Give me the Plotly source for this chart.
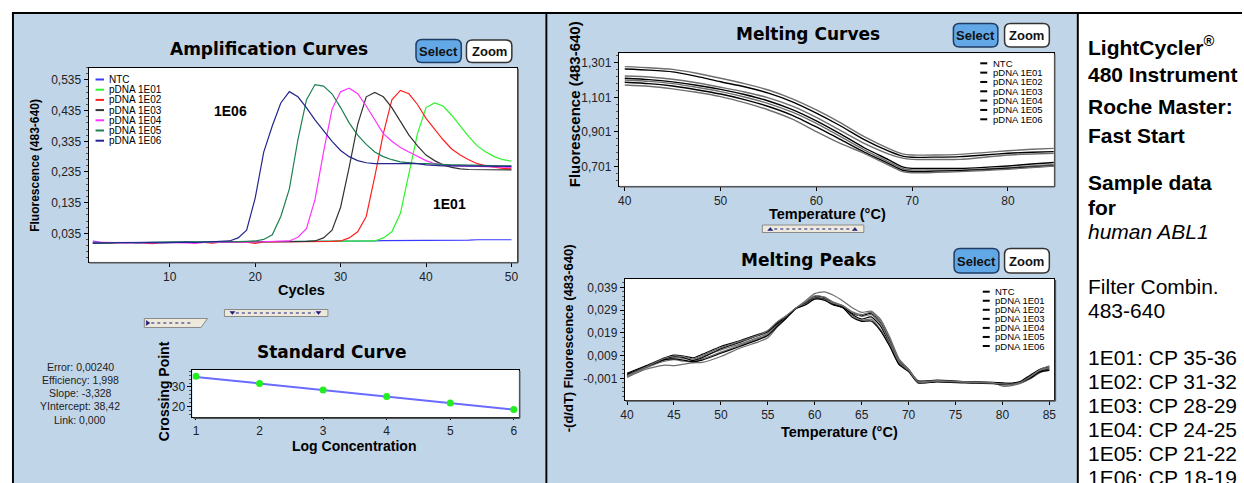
import plotly.graph_objects as go

W, H = 1244, 483


def px(x):
    return x / W


def py(y):
    return 1 - y / H


# ---------------- DATA ----------------
CYCLES = list(range(1, 51))
AMP_NAMES = ["NTC", "pDNA 1E01", "pDNA 1E02", "pDNA 1E03", "pDNA 1E04", "pDNA 1E05", "pDNA 1E06"]
AMP_COLORS = ["#3a3aff", "#2cf52c", "#ff2020", "#333333", "#ff33ff", "#1c8050", "#25258f"]

AMP_NTC = [0.010, 0.005, 0.005, 0.005, 0.005, 0.005, 0.006, 0.005, 0.006, 0.006,
           0.006, 0.006, 0.006, 0.007, 0.006, 0.007, 0.007, 0.007, 0.008, 0.007,
           0.008, 0.008, 0.008, 0.009, 0.008, 0.009, 0.008, 0.009, 0.009, 0.010,
           0.009, 0.010, 0.010, 0.010, 0.011, 0.011, 0.012, 0.011, 0.012, 0.012,
           0.013, 0.012, 0.013, 0.012, 0.013, 0.014, 0.013, 0.014, 0.014, 0.014]
AMP_1E01 = [0.002, 0.004, 0.005, 0.005, 0.004, 0.005, 0.005, 0.005, 0.006, 0.006,
            0.006, 0.006, 0.006, 0.007, 0.006, 0.006, 0.007, 0.007, 0.007, 0.007,
            0.007, 0.008, 0.008, 0.008, 0.008, 0.008, 0.008, 0.009, 0.009, 0.009,
            0.009, 0.009, 0.009, 0.010, 0.020, 0.040, 0.100, 0.230, 0.360, 0.445,
            0.460, 0.450, 0.420, 0.385, 0.350, 0.320, 0.300, 0.285, 0.275, 0.270]
AMP_1E02 = [0.005, 0.004, 0.004, 0.005, 0.006, 0.005, 0.004, 0.001, 0.005, 0.005,
            0.005, 0.006, 0.006, 0.005, 0.003, 0.006, 0.006, 0.006, 0.006, 0.002,
            0.007, 0.007, 0.007, 0.008, 0.008, 0.008, 0.009, 0.009, 0.009, 0.010,
            0.020, 0.040, 0.090, 0.220, 0.360, 0.470, 0.501, 0.490, 0.455, 0.410,
            0.375, 0.340, 0.310, 0.290, 0.275, 0.262, 0.255, 0.250, 0.247, 0.245]
AMP_1E03 = [0.004, 0.004, 0.005, 0.004, 0.005, 0.005, 0.005, 0.004, 0.005, 0.005,
            0.006, 0.006, 0.006, 0.006, 0.006, 0.007, 0.007, 0.007, 0.007, 0.007,
            0.008, 0.008, 0.008, 0.008, 0.008, 0.009, 0.010, 0.020, 0.045, 0.120,
            0.250, 0.390, 0.480, 0.494, 0.480, 0.445, 0.400, 0.355, 0.320, 0.290,
            0.272, 0.258, 0.250, 0.245, 0.243, 0.243, 0.242, 0.243, 0.242, 0.242]
AMP_1E04 = [0.006, 0.005, 0.004, 0.005, 0.004, 0.005, 0.004, 0.004, 0.005, 0.005,
            0.005, 0.004, 0.002, 0.005, 0.005, 0.006, 0.006, 0.006, 0.006, 0.007,
            0.007, 0.008, 0.008, 0.010, 0.022, 0.050, 0.145, 0.300, 0.440, 0.497,
            0.508, 0.490, 0.450, 0.405, 0.360, 0.335, 0.315, 0.300, 0.287, 0.272,
            0.262, 0.258, 0.256, 0.255, 0.254, 0.253, 0.252, 0.251, 0.250, 0.250]
AMP_1E05 = [0.002, 0.004, 0.004, 0.005, 0.004, 0.005, 0.005, 0.006, 0.005, 0.006,
            0.006, 0.006, 0.007, 0.006, 0.007, 0.007, 0.008, 0.008, 0.009, 0.010,
            0.015, 0.030, 0.090, 0.180, 0.340, 0.470, 0.520, 0.515, 0.490, 0.445,
            0.395, 0.355, 0.325, 0.300, 0.285, 0.275, 0.268, 0.265, 0.262, 0.262,
            0.260, 0.260, 0.258, 0.258, 0.257, 0.256, 0.256, 0.255, 0.255, 0.255]
AMP_1E06 = [0.003, 0.004, 0.004, 0.005, 0.005, 0.004, 0.005, 0.005, 0.004, 0.005,
            0.005, 0.006, 0.005, 0.006, 0.006, 0.007, 0.010, 0.020, 0.045, 0.150,
            0.300, 0.385, 0.460, 0.497, 0.480, 0.445, 0.405, 0.370, 0.335, 0.305,
            0.285, 0.272, 0.265, 0.262, 0.262, 0.260, 0.262, 0.263, 0.262, 0.258,
            0.256, 0.255, 0.255, 0.255, 0.254, 0.254, 0.254, 0.253, 0.253, 0.253]
AMP_SERIES = [AMP_NTC, AMP_1E01, AMP_1E02, AMP_1E03, AMP_1E04, AMP_1E05, AMP_1E06]
AMP_TICKS = [0.035, 0.135, 0.235, 0.335, 0.435, 0.535]

# Standard curve
LOG_CONC = [1, 2, 3, 4, 5, 6]
CROSSING_POINTS = [35.4, 31.8, 28.5, 25.2, 21.9, 18.6]
SLOPE = -3.328
Y_INTERCEPT = 38.42
STATS = ["Error: 0,00240", "Efficiency: 1,998", "Slope: -3,328", "YIntercept: 38,42", "Link: 0,000"]

# Melting curves
MELT_T = [40, 42.5, 45, 47.5, 50, 52.5, 55, 57.5, 60, 62.5, 65, 67.5, 69, 70, 72.5, 75, 77.5, 80, 82.5, 85]
MELT_A = [1.278, 1.272, 1.262, 1.240, 1.211, 1.180, 1.143, 1.092, 1.028, 0.955, 0.874, 0.807, 0.775, 0.768, 0.768, 0.772, 0.782, 0.793, 0.801, 0.807]
MELT_B = [1.264, 1.258, 1.248, 1.222, 1.191, 1.162, 1.125, 1.075, 1.010, 0.937, 0.857, 0.792, 0.762, 0.755, 0.756, 0.759, 0.768, 0.778, 0.784, 0.788]
MELT_C = [1.224, 1.218, 1.205, 1.185, 1.159, 1.132, 1.098, 1.050, 0.985, 0.910, 0.835, 0.775, 0.750, 0.743, 0.742, 0.743, 0.755, 0.768, 0.774, 0.778]
MELT_D = [1.211, 1.203, 1.190, 1.171, 1.147, 1.117, 1.080, 1.030, 0.965, 0.890, 0.810, 0.742, 0.700, 0.691, 0.690, 0.691, 0.697, 0.705, 0.716, 0.726]
MELT_E = [1.201, 1.193, 1.180, 1.159, 1.134, 1.103, 1.065, 1.015, 0.950, 0.875, 0.798, 0.730, 0.690, 0.682, 0.681, 0.682, 0.688, 0.695, 0.705, 0.714]
MELT_F = [1.188, 1.180, 1.166, 1.145, 1.120, 1.088, 1.048, 0.997, 0.930, 0.858, 0.785, 0.720, 0.680, 0.672, 0.675, 0.678, 0.684, 0.691, 0.699, 0.707]
MELT_G = [1.172, 1.165, 1.150, 1.130, 1.105, 1.070, 1.028, 0.975, 0.903, 0.835, 0.778, 0.711, 0.672, 0.666, 0.668, 0.672, 0.679, 0.686, 0.696, 0.705]
MELT_SERIES = [MELT_A, MELT_B, MELT_C, MELT_D, MELT_E, MELT_F, MELT_G]
MELT_TICKS = [0.701, 0.901, 1.101, 1.301]

# Melting peaks
PEAK_T = [40, 42, 44, 45, 46, 47, 48, 50, 52, 54, 55, 56, 57, 58, 59, 60, 61, 62, 63, 64, 65, 66, 67, 68,
          69, 70, 71, 73, 76, 79, 80, 81, 82, 83, 84, 85]
PEAK_A = [-0.0006, 0.0030, 0.0048, 0.0046, 0.0052, 0.0058, 0.0060, 0.0086, 0.0122, 0.0150, 0.0168, 0.0215,
          0.0255, 0.0298, 0.0330, 0.0362, 0.0370, 0.0355, 0.0330, 0.0300, 0.0280, 0.0285, 0.0250, 0.0170,
          0.0075, 0.0030, -0.0020, -0.0020, -0.0025, -0.0030, -0.0035, -0.0030, -0.0025, 0.0000, 0.0025, 0.0035]
PEAK_B = [0.0012, 0.0045, 0.0080, 0.0092, 0.0088, 0.0080, 0.0095, 0.0130, 0.0155, 0.0183, 0.0198, 0.0235,
          0.0265, 0.0298, 0.0322, 0.0350, 0.0345, 0.0322, 0.0305, 0.0270, 0.0250, 0.0260, 0.0220, 0.0140,
          0.0055, 0.0025, -0.0025, -0.0022, -0.0027, -0.0030, -0.0032, -0.0035, -0.0028, -0.0010, 0.0020, 0.0030]
PEAK_C = [0.0000, 0.0038, 0.0070, 0.0080, 0.0078, 0.0070, 0.0085, 0.0115, 0.0140, 0.0170, 0.0188, 0.0225,
          0.0262, 0.0296, 0.0318, 0.0345, 0.0340, 0.0318, 0.0300, 0.0265, 0.0245, 0.0250, 0.0205, 0.0135,
          0.0050, 0.0022, -0.0028, -0.0025, -0.0028, -0.0032, -0.0040, -0.0038, -0.0030, -0.0012, 0.0015, 0.0028]
PEAK_D = [0.0005, 0.0042, 0.0075, 0.0085, 0.0082, 0.0068, 0.0080, 0.0120, 0.0148, 0.0178, 0.0195, 0.0230,
          0.0260, 0.0297, 0.0320, 0.0342, 0.0338, 0.0315, 0.0302, 0.0275, 0.0265, 0.0275, 0.0235, 0.0155,
          0.0065, 0.0028, -0.0022, -0.0018, -0.0024, -0.0028, -0.0030, -0.0033, -0.0022, 0.0005, 0.0030, 0.0040]
PEAK_E = [-0.0004, 0.0035, 0.0065, 0.0072, 0.0065, 0.0062, 0.0075, 0.0105, 0.0135, 0.0165, 0.0182, 0.0220,
          0.0258, 0.0297, 0.0315, 0.0340, 0.0336, 0.0320, 0.0308, 0.0282, 0.0270, 0.0280, 0.0245, 0.0165,
          0.0070, 0.0030, -0.0024, -0.0020, -0.0026, -0.0029, -0.0045, -0.0042, -0.0030, -0.0005, 0.0025, 0.0038]
PEAK_F = [0.0008, 0.0040, 0.0072, 0.0075, 0.0070, 0.0063, 0.0070, 0.0100, 0.0130, 0.0160, 0.0178, 0.0218,
          0.0256, 0.0297, 0.0312, 0.0338, 0.0333, 0.0312, 0.0300, 0.0258, 0.0240, 0.0242, 0.0200, 0.0130,
          0.0050, 0.0020, -0.0030, -0.0026, -0.0030, -0.0033, -0.0036, -0.0033, -0.0026, -0.0008, 0.0018, 0.0025]
PEAK_G = [0.0002, 0.0040, 0.0078, 0.0088, 0.0085, 0.0075, 0.0090, 0.0125, 0.0152, 0.0180, 0.0200, 0.0238,
          0.0266, 0.0299, 0.0325, 0.0352, 0.0348, 0.0325, 0.0310, 0.0280, 0.0262, 0.0270, 0.0230, 0.0148,
          0.0060, 0.0025, -0.0026, -0.0023, -0.0027, -0.0031, -0.0034, -0.0036, -0.0026, -0.0002, 0.0028, 0.0045]
PEAK_SERIES = [PEAK_A, PEAK_B, PEAK_C, PEAK_D, PEAK_E, PEAK_F, PEAK_G]
PEAK_TICKS = [-0.001, 0.009, 0.019, 0.029, 0.039]
MELT_COLORS = ["#6e6e6e", "#000000", "#6e6e6e", "#000000", "#6e6e6e", "#000000", "#6e6e6e"]

SIDE_TEXT = [
    (46, "<b>LightCycler<sup>®</sup></b>"),
    (75, "<b>480 Instrument</b>"),
    (107, "<b>Roche Master:</b>"),
    (135, "<b>Fast Start</b>"),
    (183, "<b>Sample data</b>"),
    (207, "<b>for</b>"),
    (232, "<i>human ABL1</i>"),
    (286, "Filter Combin."),
    (310, "483-640"),
]
CP_LABELS = ["1E01: CP 35-36", "1E02: CP 31-32", "1E03: CP 28-29", "1E04: CP 24-25", "1E05: CP 21-22", "1E06: CP 18-19"]

# ---------------- FIGURE ----------------
FONT = "Liberation Sans, Arial, sans-serif"
TITLE_FONT = "DejaVu Sans, sans-serif"

fig = go.Figure()

for name, ys, col in zip(AMP_NAMES, AMP_SERIES, AMP_COLORS):
    fig.add_trace(go.Scatter(x=CYCLES, y=ys, mode="lines", name=name,
                             line=dict(color=col, width=1.2), xaxis="x", yaxis="y", showlegend=False))

fit_x = [LOG_CONC[0], LOG_CONC[-1]]
fit_y = [Y_INTERCEPT + SLOPE * v for v in fit_x]
fig.add_trace(go.Scatter(x=fit_x, y=fit_y, mode="lines", line=dict(color="#6a6aff", width=2),
                         xaxis="x2", yaxis="y2", showlegend=False))
fig.add_trace(go.Scatter(x=LOG_CONC, y=CROSSING_POINTS, mode="markers",
                         marker=dict(color="#22ee22", size=7), xaxis="x2", yaxis="y2", showlegend=False))

for ys, col in zip(MELT_SERIES, MELT_COLORS):
    fig.add_trace(go.Scatter(x=MELT_T, y=ys, mode="lines", line=dict(color=col, width=1.4, shape="spline", smoothing=0.6),
                             xaxis="x3", yaxis="y3", showlegend=False))
for ys, col in zip(PEAK_SERIES, MELT_COLORS):
    fig.add_trace(go.Scatter(x=PEAK_T, y=ys, mode="lines", line=dict(color=col, width=1.2, shape="spline", smoothing=0.6),
                             xaxis="x4", yaxis="y4", showlegend=False))


def fmt(v):
    return f"{v:.3f}".replace(".", ",")


def axis(domain, rng, tickvals, ticktext=None, anchor=None, minor=None, ticklen=4):
    d = dict(domain=domain, range=rng, tickvals=tickvals, ticks="outside", ticklen=ticklen, tickcolor="#000",
             showline=True, linecolor="#000", linewidth=1, mirror=True, showgrid=False, zeroline=False,
             tickfont=dict(family=FONT, size=12, color="#222"), anchor=anchor, fixedrange=True)
    if ticktext is not None:
        d["ticktext"] = ticktext
    if minor is not None:
        d["minor"] = minor
    return d


PLOTS = {
    "amp": (85, 67.7, 515.5, 261.7),
    "std": (189.4, 370, 517.2, 417.3),
    "melt": (617.7, 53.3, 1054.8, 185.7),
    "peak": (623.8, 279, 1055.5, 400),
}


def dom(key):
    x0, y0, x1, y1 = PLOTS[key]
    return [px(x0), px(x1)], [py(y1), py(y0)]


dx, dy = dom("amp")
fig.update_layout(
    xaxis=axis(dx, [0.5, 50.65], [10, 20, 30, 40, 50], anchor="y"),
    yaxis=axis(dy, [-0.0576, 0.575], AMP_TICKS, [fmt(v) for v in AMP_TICKS], anchor="x",
               minor=dict(dtick=0.02, tick0=0.035, ticklen=2, ticks="outside", tickcolor="#555")),
)
dx, dy = dom("std")
fig.update_layout(
    xaxis2=axis(dx, [0.945, 6.077], LOG_CONC, anchor="y2", ticklen=2),
    yaxis2=axis(dy, [14.6, 38.6], [20, 30], anchor="x2",
                minor=dict(dtick=2, ticklen=2, ticks="outside", tickcolor="#555")),
)
dx, dy = dom("melt")
fig.update_layout(
    xaxis3=axis(dx, [39.37, 84.78], [40, 50, 60, 70, 80], anchor="y3"),
    yaxis3=axis(dy, [0.591, 1.355], MELT_TICKS, [fmt(v) for v in MELT_TICKS], anchor="x3",
                minor=dict(dtick=0.04, tick0=0.701, ticklen=2, ticks="outside", tickcolor="#555")),
)
dx, dy = dom("peak")
fig.update_layout(
    xaxis4=axis(dx, [39.76, 85.54], [40, 45, 50, 55, 60, 65, 70, 75, 80, 85], anchor="y4"),
    yaxis4=axis(dy, [-0.01054, 0.04265], PEAK_TICKS, [fmt(v) for v in PEAK_TICKS], anchor="x4",
                minor=dict(dtick=0.002, tick0=-0.001, ticklen=2, ticks="outside", tickcolor="#555")),
)

shapes = []
annotations = []
PANEL = "#c1d5e9"


def rect(x0, y0, x1, y1, fill, line=None, lw=0, layer="below"):
    shapes.append(dict(type="rect", xref="paper", yref="paper", x0=px(x0), x1=px(x1), y0=py(y1), y1=py(y0),
                       fillcolor=fill, line=dict(color=line or fill, width=lw), layer=layer))


def seg(x0, y0, x1, y1, color, width=1, dash=None, layer="above"):
    ln = dict(color=color, width=width)
    if dash:
        ln["dash"] = dash
    shapes.append(dict(type="line", xref="paper", yref="paper", x0=px(x0), x1=px(x1), y0=py(y0), y1=py(y1),
                       line=ln, layer=layer))


def path(points, fill, line, lw=1, layer="above"):
    p = "M " + " L ".join(f"{px(a):.5f},{py(b):.5f}" for a, b in points) + " Z"
    shapes.append(dict(type="path", xref="paper", yref="paper", path=p, fillcolor=fill,
                       line=dict(color=line, width=lw), layer=layer))


def rrect(x0, y0, x1, y1, r, fill, line, lw=1.5):
    X = lambda v: f"{px(v):.5f}"
    Y = lambda v: f"{py(v):.5f}"
    p = (f"M {X(x0 + r)},{Y(y0)} L {X(x1 - r)},{Y(y0)} Q {X(x1)},{Y(y0)} {X(x1)},{Y(y0 + r)} "
         f"L {X(x1)},{Y(y1 - r)} Q {X(x1)},{Y(y1)} {X(x1 - r)},{Y(y1)} L {X(x0 + r)},{Y(y1)} "
         f"Q {X(x0)},{Y(y1)} {X(x0)},{Y(y1 - r)} L {X(x0)},{Y(y0 + r)} Q {X(x0)},{Y(y0)} {X(x0 + r)},{Y(y0)} Z")
    shapes.append(dict(type="path", xref="paper", yref="paper", path=p, fillcolor=fill,
                       line=dict(color=line, width=lw), layer="above"))


def text(x, y, s, size=12, color="#000", xanchor="center", family=FONT, angle=0, yanchor="middle"):
    annotations.append(dict(x=px(x), y=py(y), xref="paper", yref="paper", text=s, showarrow=False,
                            xanchor=xanchor, yanchor=yanchor, textangle=angle,
                            font=dict(family=family, size=size, color=color)))


# panels
rect(10, 14, 544, 483, PANEL)
rect(546, 14, 1078, 483, PANEL)
for key in PLOTS:
    x0, y0, x1, y1 = PLOTS[key]
    rect(x0, y0, x1, y1, "#ffffff")
    # darker 3D edge on right and bottom of each plot frame
    seg(x1 + 1, y0 + 1, x1 + 1, y1 + 1, "#555555", 1.5)
    seg(x0 + 1, y1 + 1, x1 + 1, y1 + 1, "#555555", 1.5)
# frame lines
seg(8, 13, 1244, 13, "#000", 2)
seg(9, 13, 9, 483, "#000", 2)
seg(545, 13, 545, 483, "#000", 2)
seg(1079, 13, 1079, 483, "#000", 2)

# titles
text(266, 49, "<b>Amplification Curves</b>", 17, family=TITLE_FONT)
text(330, 352, "<b>Standard Curve</b>", 17, family=TITLE_FONT)
text(808, 34, "<b>Melting Curves</b>", 17, family=TITLE_FONT)
text(808, 260, "<b>Melting Peaks</b>", 17, family=TITLE_FONT)

# buttons
for (sx0, sy0, sx1, sy1), (zx0, zy0, zx1, zy1) in [
    ((414, 39.5, 459.5, 62.5), (464.7, 40, 510.3, 62.5)),
    ((954, 23.5, 998.7, 47), (1005.4, 23.5, 1050.4, 47)),
    ((954.7, 248.5, 999.7, 273), (1005.4, 248.5, 1050.4, 273)),
]:
    rrect(sx0, sy0, sx1, sy1, 6, "#62a8e6", "#1d3c66", 1.5)
    rrect(zx0, zy0, zx1, zy1, 6, "#ffffff", "#333333", 1.5)
    text((sx0 + sx1) / 2, (sy0 + sy1) / 2 + 0.5, "<b>Select</b>", 13, "#111")
    text((zx0 + zx1) / 2, (zy0 + zy1) / 2 + 0.5, "<b>Zoom</b>", 13, "#111")

# axis titles
text(31, 165, "<b>Fluorescence (483-640)</b>", 12, angle=-90)
text(299, 290, "<b>Cycles</b>", 14.5)
text(161, 391, "<b>Crossing Point</b>", 14, angle=-90)
text(352, 446, "<b>Log Concentration</b>", 14)
text(573, 104, "<b>Fluorescence (483-640)</b>", 15, angle=-90)
text(827, 214, "<b>Temperature (°C)</b>", 14.5)
text(567, 338, "<b>-(d/dT) Fluorescence (483-640)</b>", 13, angle=-90)
text(840, 432, "<b>Temperature (°C)</b>", 14.5)

# in-plot labels
text(228, 111, "<b>1E06</b>", 14)
text(448, 204, "<b>1E01</b>", 14)

# legends
for i, (name, col) in enumerate(zip(AMP_NAMES, AMP_COLORS)):
    yy = 79.5 + i * 10.2
    seg(92, yy, 100.5, yy, col, 2)
    text(104, yy, name, 10, xanchor="left")
for i, name in enumerate(AMP_NAMES):
    yy = 63.3 + i * 9.33
    seg(981, yy, 988, yy, "#000", 2)
    text(991.5, yy, name, 9.5, xanchor="left")
    yy2 = 291.7 + i * 9.05
    seg(983.5, yy2, 990.5, yy2, "#000", 2)
    text(994, yy2, name, 9.5, xanchor="left")

# standard curve stats
for i, s in enumerate(STATS):
    text(76.5, 366.5 + i * 13.3, s, 10.5, "#222")

# sliders (decorative controls)
SL_FILL, SL_LINE, SL_MARK = "#eeeadb", "#8a8a8a", "#1a1a80"
path([(141, 318.5), (204.5, 318.5), (198, 327.5), (141, 327.5)], SL_FILL, SL_LINE, 1)
path([(143, 320.5), (146.5, 323), (143, 325.5)], SL_MARK, SL_MARK, 0.5)
seg(148, 323, 190, 323, SL_MARK, 1, "dot")
rect(221.5, 309.5, 325.5, 316.5, SL_FILL, SL_LINE, 1, layer="above")
for cx in (229.5, 316):
    path([(cx - 2.5, 311.5), (cx + 2.5, 311.5), (cx, 314.5)], SL_MARK, SL_MARK, 0.5)
seg(233, 313, 312, 313, SL_MARK, 1, "dot")
rect(762, 225, 864, 232.5, SL_FILL, SL_LINE, 1, layer="above")
for cx in (770, 855):
    path([(cx - 2.5, 230.5), (cx + 2.5, 230.5), (cx, 227.5)], SL_MARK, SL_MARK, 0.5)
seg(774, 229, 851, 229, SL_MARK, 1, "dot")

# side text
for yy, s in SIDE_TEXT:
    text(1087, yy, s, 21, xanchor="left")
for i, s in enumerate(CP_LABELS):
    text(1087, 357 + i * 24, s, 21, xanchor="left")

fig.update_layout(
    width=W, height=H, margin=dict(l=0, r=0, t=0, b=0),
    paper_bgcolor="#ffffff", plot_bgcolor="rgba(0,0,0,0)",
    shapes=shapes, annotations=annotations, showlegend=False,
    font=dict(family=FONT),
)

fig.write_html("out.html", config={"displayModeBar": False},
               post_script="document.body.style.margin='0';document.body.style.padding='0';")
